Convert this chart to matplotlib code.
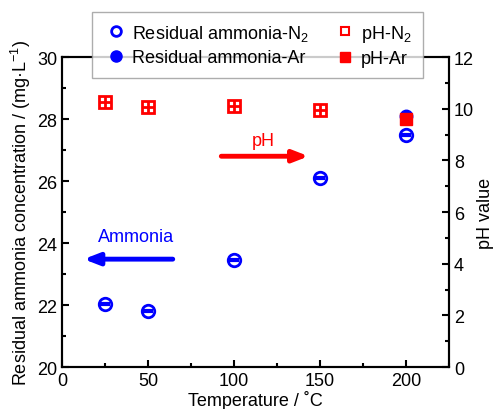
import matplotlib.pyplot as plt
from matplotlib.ticker import MultipleLocator
from matplotlib.lines import Line2D

plt.rcParams['font.family'] = ['Liberation Sans', 'DejaVu Sans']
plt.rcParams['mathtext.fontset'] = 'custom'
plt.rcParams['mathtext.rm'] = 'Liberation Sans'

# temperatures (°C)
temp_n2 = [25, 50, 100, 150, 200]
temp_ar = [200]

# residual ammonia (mg/L)
nh3_n2 = [22.03, 21.81, 23.45, 26.1, 27.5]
nh3_ar = [28.1]

# pH
temp_ph_n2 = [25, 50, 100, 150]
ph_n2 = [10.25, 10.08, 10.1, 9.95]
ph_ar = [9.6]

fig = plt.figure(figsize=(4.94, 4.10), dpi=100)
ax = fig.add_axes([0.1255, 0.1024, 0.7835, 0.756])
ax2 = ax.twinx()

blue = '#0000ff'
red = '#ff0000'

# ammonia markers on left axis
ax.plot(temp_ar, nh3_ar, 'o', color=blue, ms=9, zorder=3)
ax.plot(temp_n2, nh3_n2, 'o', mfc='white', mec=blue, mew=2, ms=9, zorder=4)
ax.plot(temp_n2, nh3_n2, '_', color=blue, mew=3, ms=7, zorder=5)

# pH markers on right axis
ax2.plot(temp_ph_n2, ph_n2, 's', mfc='white', mec=red, mew=2, ms=8, zorder=4)
ax2.plot(temp_ph_n2, ph_n2, '+', color=red, mew=2, ms=8, zorder=5)
ax2.plot(temp_ar, ph_ar, 's', color=red, ms=9, zorder=6)

ax.set_xlim(0, 225)
ax.set_ylim(20, 30)
ax2.set_ylim(0, 12)

ax.xaxis.set_major_locator(MultipleLocator(50))
ax.xaxis.set_minor_locator(MultipleLocator(25))
ax.yaxis.set_major_locator(MultipleLocator(2))
ax.yaxis.set_minor_locator(MultipleLocator(1))
ax2.yaxis.set_major_locator(MultipleLocator(2))
ax2.yaxis.set_minor_locator(MultipleLocator(1))

ax.tick_params(which='both', direction='in', top=False, right=False,
               labelsize=13, width=1.5)
ax.tick_params(which='major', length=5)
ax.tick_params(which='minor', length=3)
ax2.tick_params(which='both', direction='in', labelsize=13, width=1.5)
ax2.tick_params(which='major', length=5)
ax2.tick_params(which='minor', length=3)

for a in (ax, ax2):
    for s in a.spines.values():
        s.set_linewidth(1.5)

ax.set_xlabel('Temperature / ˚C', fontsize=13, labelpad=1)
ax.set_ylabel('Residual ammonia concentration / (mg·L$^{-1}$)', fontsize=13, labelpad=3)
ax2.set_ylabel('pH value', fontsize=13, labelpad=2)

# direction arrows
ax.annotate('', xy=(145, 26.8), xytext=(91, 26.8),
            arrowprops=dict(arrowstyle='-|>,head_length=0.9,head_width=0.35',
                            color=red, lw=3.5))
ax.text(117, 27.3, 'pH', color=red, fontsize=13, ha='center', va='center')
ax.annotate('', xy=(11, 23.48), xytext=(66, 23.48),
            arrowprops=dict(arrowstyle='-|>,head_length=0.9,head_width=0.35',
                            color=blue, lw=3.5))
ax.text(43, 24.2, 'Ammonia', color=blue, fontsize=13, ha='center', va='center')

handles = [
    Line2D([], [], ls='none', marker='o', mfc='white', mec=blue, mew=2, ms=7),
    Line2D([], [], ls='none', marker='o', color=blue, ms=8),
    Line2D([], [], ls='none', marker='s', mfc='white', mec=red, mew=1.5, ms=6),
    Line2D([], [], ls='none', marker='s', color=red, ms=7),
]
labels = ['Residual ammonia-N$_2$', 'Residual ammonia-Ar', 'pH-N$_2$', 'pH-Ar']
leg = ax2.legend(handles, labels, ncol=2, loc='center', bbox_to_anchor=(0.505, 1.039),
                 fontsize=13, frameon=True, fancybox=False, edgecolor='#999999',
                 handletextpad=0.2, columnspacing=1.3, borderpad=0.6,
                 labelspacing=0.35, handlelength=1.4)
leg.get_frame().set_linewidth(1.0)
leg.set_zorder(10)

fig.savefig('out.png', dpi=100)
